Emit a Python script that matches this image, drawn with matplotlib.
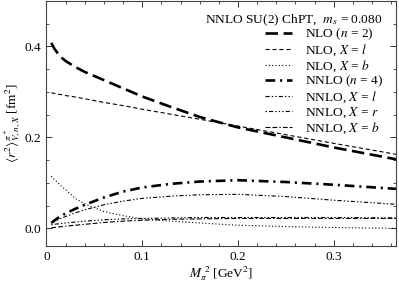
import numpy as np
import matplotlib as mpl
mpl.use("Agg")
import matplotlib.pyplot as plt
from matplotlib.ticker import MultipleLocator

mpl.rcParams.update({"font.family": "serif", "font.serif": ["Liberation Serif", "DejaVu Serif"],
    "mathtext.fontset": "stix", "font.size": 9.6, "lines.scale_dashes": False,
    "xtick.direction": "in", "ytick.direction": "in", "xtick.top": True, "ytick.right": True})

# M_pi^2 [GeV^2] sample points
m2 = [0.005, 0.008, 0.012, 0.016, 0.02, 0.03, 0.04, 0.06, 0.08, 0.1, 0.13, 0.16, 0.2, 0.25, 0.3, 0.365]
nlo_n2 = [0.408, 0.396, 0.384, 0.375, 0.368, 0.355, 0.344, 0.326, 0.308, 0.290, 0.267, 0.245, 0.222, 0.200, 0.178, 0.152]
nlo_l = [0.298, 0.297, 0.295, 0.294, 0.292, 0.289, 0.285, 0.277, 0.270, 0.262, 0.251, 0.240, 0.225, 0.206, 0.187, 0.163]
nlo_b = [0.115, 0.108, 0.100, 0.092, 0.085, 0.066, 0.054, 0.037, 0.028, 0.021, 0.016, 0.012, 0.007, 0.004, 0.002, 0.000]
nnlo_n4 = [0.012, 0.017, 0.023, 0.028, 0.033, 0.043, 0.052, 0.068, 0.081, 0.090, 0.098, 0.103, 0.106, 0.102, 0.096, 0.087]
nnlo_l = [0.012, 0.015, 0.019, 0.023, 0.026, 0.034, 0.041, 0.052, 0.060, 0.066, 0.071, 0.074, 0.075, 0.070, 0.062, 0.053]
nnlo_r = [0.008, 0.009, 0.010, 0.011, 0.012, 0.014, 0.016, 0.019, 0.021, 0.022, 0.023, 0.024, 0.024, 0.024, 0.024, 0.023]
nnlo_b = [0.001, 0.002, 0.003, 0.004, 0.005, 0.007, 0.009, 0.013, 0.016, 0.018, 0.020, 0.021, 0.022, 0.022, 0.022, 0.022]

series = [
    (nlo_n2, r"NLO ($n$ = 2)", 1.9, (0, (9, 4))),
    (nlo_l, r"NLO, $X$ = $l$", 0.8, (0, (3, 2))),
    (nlo_b, r"NLO, $X$ = $b$", 0.8, (0, (0.8, 1.6))),
    (nnlo_n4, r"NNLO ($n$ = 4)", 1.9, (0, (7, 3.5, 1.5, 3.5))),
    (nnlo_l, r"NNLO, $X$ = $l$", 0.8, (0, (3, 1.5, 1, 1.5, 1, 1.5))),
    (nnlo_r, r"NNLO, $X$ = $r$", 0.8, (0, (1, 1.5, 3, 1.5, 1, 1.5, 1, 1.5))),
    (nnlo_b, r"NNLO, $X$ = $b$", 0.8, (0, (3.5, 1.5, 3.5, 1.5, 1, 1.5))),
]

fig = plt.figure(figsize=(3.99, 2.83), dpi=100)
ax = fig.add_axes([0.1165, 0.1318, 0.876, 0.8647])
for y, lab, lw, ls in series:
    ax.plot(m2, y, color="k", lw=lw, linestyle=ls, label=lab)

ax.set_xlim(0, 0.365)
ax.set_ylim(-0.038, 0.5)
ax.xaxis.set_minor_locator(MultipleLocator(0.02))
ax.yaxis.set_minor_locator(MultipleLocator(0.05))
ax.set_xticks([0, 0.1, 0.2, 0.3]); ax.set_xticklabels(["0", "0.1", "0.2", "0.3"])
ax.set_yticks([0, 0.2, 0.4]); ax.set_yticklabels(["0.0", "0.2", "0.4"])
ax.tick_params(which="major", length=4, width=0.7, colors="#333333", labelcolor="k")
ax.tick_params(which="minor", length=2.5, width=0.6, colors="#333333")
for s in ax.spines.values():
    s.set_color("#444444"); s.set_linewidth(0.8)

ax.set_xlabel(r"$M_\pi^{\ 2}$ [GeV$^2$]", labelpad=1.5)
ax.set_ylabel(r"$\langle r^2\rangle^{\pi^+}_{V,n,X}$ [fm$^2$]", labelpad=1)

ax.text(0.962, 0.922, r"NNLO SU(2) ChPT,  $m_s$ = 0.080", transform=ax.transAxes, ha="right", va="center")
ax.legend(loc="upper right", bbox_to_anchor=(0.965, 0.895), frameon=False, handlelength=2.0,
          handletextpad=1.0, labelspacing=0.02, borderpad=0, borderaxespad=0)

fig.savefig("out.png", dpi=100)
